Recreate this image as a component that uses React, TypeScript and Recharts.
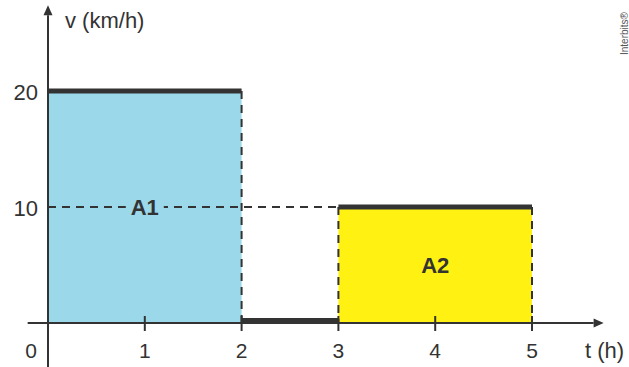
import { ComposedChart, XAxis, YAxis, ReferenceArea, ReferenceLine, ReferenceDot } from 'recharts';

const T_TICKS = [0, 1, 2, 3, 4, 5];
const V_TICKS = [10, 20];

// motion phases: start (h), end (h), speed (km/h)
const PHASE_START = [0, 2, 3];
const PHASE_END = [2, 3, 5];
const PHASE_SPEED = [20, 0, 10];
const AREA_NAMES = ['A1', '', 'A2'];
const AREA_COLORS = ['#9bd9ea', 'none', '#fff212'];

// dashed reading guide at v = 10 up to t = 3
const GUIDE_SPEED = 10;
const GUIDE_END = 3;

// how far the drawn axes run past the plotted range
const T_AXIS = [-0.21, 5.74];
const V_AXIS = [-3.8, 27.4];

const INK = '#333333';
const FONT = '"Liberation Sans", Arial, sans-serif';

function Segment(p: any) {
  const lift = p.lift || 0;
  return (
    <line
      x1={p.x1}
      y1={p.y1 - lift}
      x2={p.x2}
      y2={p.y2 - lift}
      stroke={p.stroke}
      strokeWidth={p.strokeWidth}
      strokeDasharray={p.strokeDasharray}
    />
  );
}

function Arrow(p: any) {
  const dx = p.x2 - p.x1;
  const dy = p.y2 - p.y1;
  const len = Math.hypot(dx, dy) || 1;
  const ux = dx / len;
  const uy = dy / len;
  const L = 10;
  const W = 4.5;
  const bx = p.x2 - ux * L;
  const by = p.y2 - uy * L;
  return (
    <g>
      <line x1={p.x1} y1={p.y1} x2={bx} y2={by} stroke={INK} strokeWidth={2} />
      <polygon
        points={`${p.x2},${p.y2} ${bx - uy * W},${by + ux * W} ${bx + uy * W},${by - ux * W}`}
        fill={INK}
      />
    </g>
  );
}

function XTick({ x, y, payload }: any) {
  const t = payload.value;
  return (
    <g>
      {t !== 0 && <line x1={x} x2={x} y1={y - 7} y2={y + 8} stroke={INK} strokeWidth={2} />}
      <text x={t === 0 ? x - 17 : x} y={y + 35} textAnchor="middle" fontSize={21} fill={INK} fontFamily={FONT}>
        {t}
      </text>
    </g>
  );
}

function YTick({ x, y, payload }: any) {
  return (
    <text x={x - 10} y={y + 9} textAnchor="end" fontSize={22} fill={INK} fontFamily={FONT}>
      {payload.value}
    </text>
  );
}

function AreaName(p: any) {
  const { cx, cy, name, bg } = p;
  return (
    <g>
      {bg !== 'none' && <rect x={cx - 19} y={cy - 12} width={38} height={24} fill={bg} />}
      <text x={cx} y={cy + 8} textAnchor="middle" fontSize={22} fontWeight="bold" fill={INK} fontFamily={FONT}>
        {name}
      </text>
    </g>
  );
}

export default function App() {
  const phases = PHASE_START.map((start, i) => ({
    start,
    end: PHASE_END[i],
    speed: PHASE_SPEED[i],
    name: AREA_NAMES[i],
    color: AREA_COLORS[i],
  }));

  // dashed verticals at the edges of each moving phase (t = 0 is the axis itself)
  const drops: { t: number; v: number }[] = [];
  phases.forEach((ph) => {
    if (ph.speed <= 0) return;
    if (ph.start > 0) drops.push({ t: ph.start, v: ph.speed });
    drops.push({ t: ph.end, v: ph.speed });
  });

  return (
    <div style={{ position: 'absolute', left: 0, top: 0, width: 629, height: 367, background: '#fff' }}>
      <ComposedChart width={629} height={367} data={phases} margin={{ top: 91, right: 97, bottom: 0, left: 0 }}>
        <XAxis
          type="number"
          dataKey="start"
          domain={[0, 5]}
          allowDataOverflow
          ticks={T_TICKS}
          interval={0}
          axisLine={false}
          tickLine={false}
          tickSize={0}
          tickMargin={0}
          height={44}
          tick={<XTick />}
        />
        <YAxis
          type="number"
          domain={[0, 20]}
          allowDataOverflow
          ticks={V_TICKS}
          interval={0}
          axisLine={false}
          tickLine={false}
          tickSize={0}
          tickMargin={0}
          width={48}
          tick={<YTick />}
        />

        {phases
          .filter((ph) => ph.speed > 0)
          .map((ph) => (
            <ReferenceArea
              key={`area-${ph.start}`}
              x1={ph.start}
              x2={ph.end}
              y1={0}
              y2={ph.speed}
              fill={ph.color}
              fillOpacity={1}
              stroke="none"
              ifOverflow="visible"
            />
          ))}

        <ReferenceLine
          segment={[
            { x: 0, y: GUIDE_SPEED },
            { x: GUIDE_END, y: GUIDE_SPEED },
          ]}
          stroke={INK}
          strokeWidth={2}
          strokeDasharray="8 6"
          ifOverflow="visible"
          shape={(p: any) => <Segment {...p} />}
        />
        {drops.map((d) => (
          <ReferenceLine
            key={`drop-${d.t}`}
            segment={[
              { x: d.t, y: d.v },
              { x: d.t, y: 0 },
            ]}
            stroke={INK}
            strokeWidth={2}
            strokeDasharray="8 6"
            ifOverflow="visible"
            shape={(p: any) => <Segment {...p} />}
          />
        ))}

        {phases.map((ph) => (
          <ReferenceLine
            key={`speed-${ph.start}`}
            segment={[
              { x: ph.start, y: ph.speed },
              { x: ph.end, y: ph.speed },
            ]}
            stroke={INK}
            strokeWidth={5}
            ifOverflow="visible"
            shape={(p: any) => <Segment {...p} lift={ph.speed === 0 ? 2.5 : 0} />}
          />
        ))}

        <ReferenceLine
          segment={[
            { x: T_AXIS[0], y: 0 },
            { x: T_AXIS[1], y: 0 },
          ]}
          ifOverflow="visible"
          shape={(p: any) => <Arrow {...p} />}
        />
        <ReferenceLine
          segment={[
            { x: 0, y: V_AXIS[0] },
            { x: 0, y: V_AXIS[1] },
          ]}
          ifOverflow="visible"
          shape={(p: any) => <Arrow {...p} />}
        />

        {phases
          .filter((ph) => ph.name)
          .map((ph) => (
            <ReferenceDot
              key={`name-${ph.name}`}
              x={(ph.start + ph.end) / 2}
              y={ph.speed / 2}
              ifOverflow="visible"
              shape={(p: any) => <AreaName {...p} name={ph.name} bg={ph.color} />}
            />
          ))}
      </ComposedChart>

      <svg width={629} height={367} style={{ position: 'absolute', left: 0, top: 0, pointerEvents: 'none' }}>
        <text x={65} y={28} fontSize={22} fill={INK} fontFamily={FONT}>
          v (km/h)
        </text>
        <text x={585} y={358} fontSize={22} fill={INK} fontFamily={FONT}>
          t (h)
        </text>
        <text transform="translate(628,55) rotate(-90)" fontSize={10} fill="#555" fontFamily={FONT}>
          Interbits®
        </text>
      </svg>
    </div>
  );
}
